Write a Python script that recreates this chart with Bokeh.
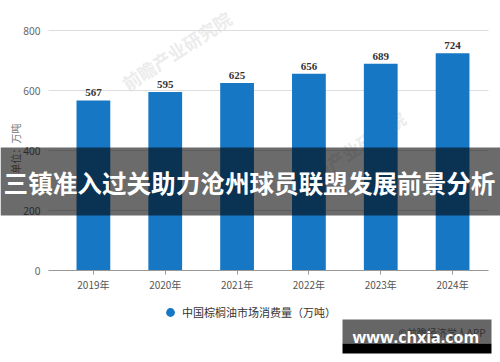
from bokeh.plotting import figure
from bokeh.models import (ColumnDataSource, FixedTicker, LabelSet, Label, BoxAnnotation,
                          Legend, LegendItem, Range1d, LinearAxis)
from bokeh.embed import file_html
from bokeh.resources import INLINE

# ---- data ----
years = ["2019年", "2020年", "2021年", "2022年", "2023年", "2024年"]
consumption = [567, 595, 625, 656, 689, 724]
y_ticks = [0, 200, 400, 600, 800]
series_name = "中国棕榈油市场消费量（万吨）"
y_title = "单位：万吨"
banner = "三镇准入过关助力沧州球员联盟发展前景分析"
site = "www.chxia.com"
credit = "©前瞻经济学人APP"
faint_mark = "前瞻产业研究院"

FONT = "Noto Sans CJK SC"
NUM_FONT = "Noto Sans"
BLUE = "#1677c5"

W, H = 500, 362
# plotting area (in data units) and its placement on the canvas (pixels)
X_LO, X_HI = -0.625, 5.5
Y_LO, Y_HI = 0, 800
PX_L, PX_R, PX_T, PX_B = 48, 488, 30, 270
kx = (PX_R - PX_L) / (X_HI - X_LO)
ky = (PX_B - PX_T) / (Y_HI - Y_LO)
x_range = Range1d(X_LO - PX_L / kx, X_HI + (W - PX_R) / kx)
y_range = Range1d(Y_LO - (H - PX_B) / ky, Y_HI + PX_T / ky)

idx = list(range(len(years)))
src = ColumnDataSource(dict(x=idx, y=consumption, lab=[str(v) for v in consumption]))

p = figure(width=W, height=H, output_backend="svg", toolbar_location=None,
           x_range=x_range, y_range=y_range, x_axis_type=None, y_axis_type=None,
           min_border=0, min_border_left=0, min_border_right=0,
           min_border_top=0, min_border_bottom=0)
p.outline_line_color = None
p.background_fill_color = "white"
p.border_fill_color = "white"
p.grid.visible = False

# faint background watermarks
for cx, cy in [(176, 50), (350, 150)]:
    p.add_layout(Label(x=cx, y=H - cy, x_units="screen", y_units="screen", text=faint_mark,
                       angle=0.58, text_align="center", text_baseline="middle",
                       text_font=FONT, text_font_size="18px", text_font_style="bold",
                       text_color="#ececec", level="underlay"))

# horizontal grid lines across the plotting area
p.segment(x0=[X_LO] * len(y_ticks), x1=[X_HI] * len(y_ticks), y0=y_ticks, y1=y_ticks,
          line_color="#dddddd", line_width=1)

p.vbar(x="x", top="y", width=0.47, source=src, fill_color=BLUE, line_color=None)

# value labels
p.add_layout(LabelSet(x="x", y="y", text="lab", source=src, text_align="center",
                      text_baseline="bottom", y_offset=4, text_font=NUM_FONT,
                      text_font_size="11px", text_font_style="bold", text_color="#333333"))

# axes, pinned inside the full-canvas frame
yax = LinearAxis(fixed_location=X_LO, bounds=(Y_LO, Y_HI), ticker=FixedTicker(ticks=y_ticks))
yax.axis_line_color = None
yax.major_tick_line_color = None
yax.minor_tick_line_color = None
yax.major_label_standoff = 2
yax.major_label_text_font = NUM_FONT
yax.major_label_text_font_size = "10px"
yax.major_label_text_color = "#666666"
p.add_layout(yax, "left")

xax = LinearAxis(fixed_location=Y_LO, bounds=(X_LO, X_HI), ticker=FixedTicker(ticks=idx))
xax.major_label_overrides = {i: y for i, y in zip(idx, years)}
xax.axis_line_color = "#999999"
xax.major_tick_line_color = "#999999"
xax.major_tick_in = 0
xax.major_tick_out = 4
xax.minor_tick_line_color = None
xax.major_label_standoff = 2
xax.major_label_text_font = FONT
xax.major_label_text_font_size = "10px"
xax.major_label_text_color = "#555555"
p.add_layout(xax, "below")

# y axis title
p.add_layout(Label(x=15, y=H - 148, x_units="screen", y_units="screen", text=y_title,
                   angle=1.5708, text_align="center", text_baseline="middle",
                   text_font=FONT, text_font_size="10px", text_color="#777777"))

# legend (marker source holds no points; only the legend swatch is drawn)
leg_src = ColumnDataSource(dict(x=[float("nan")], y=[float("nan")]))
leg_r = p.scatter(x="x", y="y", source=leg_src, size=9, marker="circle",
                  fill_color=BLUE, line_color=None)
legend = Legend(items=[LegendItem(label=series_name, renderers=[leg_r])],
                location=(159, H - 323), orientation="horizontal",
                glyph_width=22, glyph_height=22, label_height=22, label_standoff=1,
                padding=0, margin=0, border_line_color=None, background_fill_alpha=0,
                label_text_font=FONT, label_text_font_size="11px", label_text_color="#333333")
p.add_layout(legend)

# overlay band with headline
p.add_layout(BoxAnnotation(left=0, right=W, bottom=H - 215, top=H - 147,
                           left_units="screen", right_units="screen",
                           bottom_units="screen", top_units="screen",
                           fill_color="black", fill_alpha=0.58, line_color=None, level="overlay"))
p.add_layout(Label(x=W / 2 - 1, y=H - 181, x_units="screen", y_units="screen", text=banner,
                   text_align="center", text_baseline="middle", text_font=FONT,
                   text_font_size="24.6px", text_font_style="bold", text_color="white",
                   level="overlay"))

# watermark box bottom right
p.add_layout(BoxAnnotation(left=342, right=491, bottom=H - 343, top=H - 319,
                           left_units="screen", right_units="screen",
                           bottom_units="screen", top_units="screen",
                           fill_color="#666666", fill_alpha=1, line_color=None, level="overlay"))
p.add_layout(BoxAnnotation(left=342, right=491, bottom=H - 353, top=H - 343,
                           left_units="screen", right_units="screen",
                           bottom_units="screen", top_units="screen",
                           fill_color="black", fill_alpha=1, line_color=None, level="overlay"))
p.add_layout(Label(x=398, y=H - 332, x_units="screen", y_units="screen", text=credit,
                   text_align="left", text_baseline="middle", text_font=FONT,
                   text_font_size="10px", text_color="#333333", level="overlay"))
p.add_layout(Label(x=352, y=H - 336, x_units="screen", y_units="screen", text=site,
                   text_align="left", text_baseline="middle", text_font="Open Sans",
                   text_font_size="16px", text_font_style="bold", text_color="white",
                   level="overlay"))

open("out.html", "w").write(file_html(p, INLINE))
